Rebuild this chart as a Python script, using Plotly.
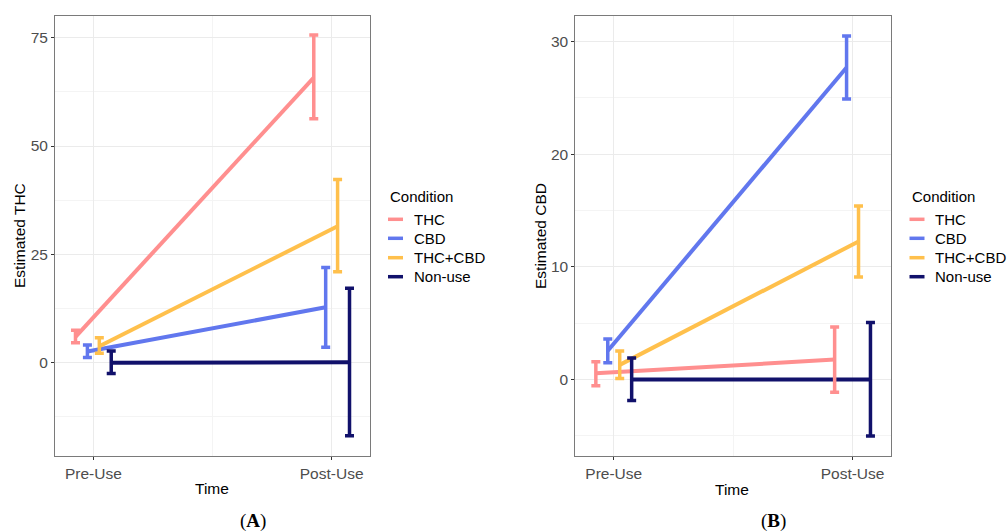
import plotly.graph_objects as go

conditions = ["THC", "CBD", "THC+CBD", "Non-use"]
colors = ["#FF8F8F", "#6177EE", "#FFC04C", "#11116B"]
time_labels = ["Pre-Use", "Post-Use"]
dodge = [-0.075, -0.025, 0.025, 0.075]

# Panel A: Estimated THC  [pre, post]
thc_mean = [[6.0, 65.8], [2.6, 12.8], [3.8, 31.5], [0.0, 0.1]]
thc_low = [[4.6, 56.3], [1.25, 3.6], [2.2, 21.0], [-2.45, -16.8]]
thc_high = [[7.5, 75.6], [4.1, 22.0], [5.8, 42.3], [2.7, 17.2]]

# Panel B: Estimated CBD  [pre, post]
cbd_mean = [[0.55, 1.77], [2.55, 27.7], [1.3, 12.25], [0.0, 0.0]]
cbd_low = [[-0.56, -1.12], [1.48, 24.9], [0.09, 9.09], [-1.86, -5.02]]
cbd_high = [[1.57, 4.66], [3.6, 30.5], [2.54, 15.4], [1.92, 5.07]]

W, H = 1007, 532
FONT = "Liberation Sans, Arial, sans-serif"

fig = go.Figure()

def add_panel(means, lows, highs, xa, ya):
    # lines first
    for i, c in enumerate(conditions):
        xs = [1 + dodge[i], 2 + dodge[i]]
        fig.add_trace(go.Scatter(x=xs, y=means[i], mode="lines", name=c,
                                 line=dict(color=colors[i], width=4),
                                 xaxis=xa, yaxis=ya, showlegend=False,
                                 hoverinfo="skip"))
    # error bars on top
    for i, c in enumerate(conditions):
        xs = [1 + dodge[i], 2 + dodge[i]]
        plus = [h - m for h, m in zip(highs[i], means[i])]
        minus = [m - l for m, l in zip(means[i], lows[i])]
        fig.add_trace(go.Scatter(x=xs, y=means[i], mode="markers", name=c,
                                 marker=dict(size=1, color=colors[i], opacity=0),
                                 error_y=dict(type="data", symmetric=False, array=plus,
                                              arrayminus=minus, color=colors[i],
                                              thickness=3.5, width=4.5),
                                 xaxis=xa, yaxis=ya, showlegend=False))

add_panel(thc_mean, thc_low, thc_high, "x", "y")
add_panel(cbd_mean, cbd_low, cbd_high, "x2", "y2")

xcommon = dict(tickmode="linear", tick0=1, dtick=1,
               labelalias={"1": time_labels[0], "2": time_labels[1]},
               range=[0.839, 2.161], showgrid=True, gridcolor="#EBEBEB", gridwidth=1,
               minor=dict(dtick=0.5, showgrid=True, gridcolor="#F4F4F4", gridwidth=1),
               showline=True, mirror=True, linecolor="#7A7A7A", linewidth=1,
               ticks="outside", ticklen=3, tickcolor="#333333",
               tickfont=dict(size=15.5, color="#4D4D4D", family=FONT), zeroline=False)
ycommon = dict(showgrid=True, gridcolor="#EBEBEB", gridwidth=1,
               showline=True, mirror=True, linecolor="#7A7A7A", linewidth=1,
               ticks="outside", ticklen=3, tickcolor="#333333",
               tickfont=dict(size=15.5, color="#4D4D4D", family=FONT), zeroline=False)

ydom = [1 - 456 / H, 1 - 16 / H]
fig.update_layout(
    width=W, height=H, margin=dict(l=0, r=0, t=0, b=0),
    paper_bgcolor="white", plot_bgcolor="white",
    font=dict(family=FONT, size=15, color="black"),
    xaxis=dict(domain=[55 / W, 370 / W], anchor="y", **xcommon),
    yaxis=dict(domain=ydom, anchor="x", range=[-21.5, 80], dtick=25, tick0=0,
               minor=dict(dtick=12.5, showgrid=True, gridcolor="#F4F4F4"), **ycommon),
    xaxis2=dict(domain=[575.3 / W, 891 / W], anchor="y2", **xcommon),
    yaxis2=dict(domain=ydom, anchor="x2", range=[-6.79, 32.27], dtick=10, tick0=0,
                minor=dict(dtick=5, showgrid=True, gridcolor="#F4F4F4"), **ycommon),
    showlegend=False,
)

ann = []
shapes = []
def txt(x, y, s, size=15, xanchor="center", yanchor="middle", angle=0, family=FONT):
    ann.append(dict(x=x / W, y=1 - y / H, xref="paper", yref="paper", text=s,
                    showarrow=False, xanchor=xanchor, yanchor=yanchor, textangle=angle,
                    font=dict(size=size, family=family, color="black")))

# axis titles
txt(20, 236, "Estimated THC", size=15.5, angle=-90)
txt(541, 236, "Estimated CBD", size=15.5, angle=-90)
txt(212, 488, "Time", size=15.5)
txt(732, 489, "Time", size=15.5)
# panel labels
txt(253, 521, "(<b>A</b>)", size=19, family="Liberation Serif, Times New Roman, serif")
txt(773, 521, "(<b>B</b>)", size=19, family="Liberation Serif, Times New Roman, serif")

# manual legends
item_y = [219.3, 238.3, 257.7, 276.7]
for lx, tx in [(388, 411.7), (909.5, 932.7)]:
    txt(lx, 196, "Condition", size=15, xanchor="left")
    for i, c in enumerate(conditions):
        shapes.append(dict(type="line", xref="paper", yref="paper",
                           x0=lx / W, x1=(lx + 15) / W,
                           y0=1 - item_y[i] / H, y1=1 - item_y[i] / H,
                           line=dict(color=colors[i], width=3.5)))
        txt(tx, item_y[i], c, size=15, xanchor="left")

fig.update_layout(annotations=ann, shapes=shapes)
fig.write_html("out.html", config={"displayModeBar": False},
               post_script="document.body.style.margin='0';document.body.style.padding='0';document.body.style.overflow='hidden';")
